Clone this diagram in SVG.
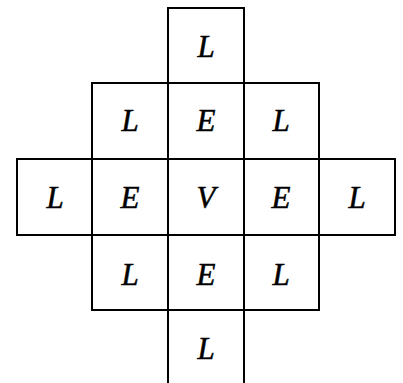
<svg xmlns="http://www.w3.org/2000/svg" width="403" height="383" viewBox="0 0 403 383">
<style>
.c{fill:none;stroke:#000;stroke-width:2}
.t{font-family:"Liberation Serif","Times New Roman",serif;font-style:italic;font-size:31px;text-anchor:middle;fill:#000;stroke:#000;stroke-width:0.5}
</style>
<rect width="403" height="383" fill="#fff"/>
<g id="r0c2"><rect class="c" x="168" y="8" width="76" height="75"/><text class="t" x="206" y="57">L</text></g>
<g id="r1c1"><rect class="c" x="92" y="83" width="76" height="76"/><text class="t" x="130" y="131">L</text></g>
<g id="r1c2"><rect class="c" x="168" y="83" width="76" height="76"/><text class="t" x="206" y="131">E</text></g>
<g id="r1c3"><rect class="c" x="244" y="83" width="75" height="76"/><text class="t" x="281" y="131">L</text></g>
<g id="r2c0"><rect class="c" x="17" y="159" width="75" height="76"/><text class="t" x="55" y="208">L</text></g>
<g id="r2c1"><rect class="c" x="92" y="159" width="76" height="76"/><text class="t" x="130" y="208">E</text></g>
<g id="r2c2"><rect class="c" x="168" y="159" width="76" height="76"/><text class="t" x="206" y="208">V</text></g>
<g id="r2c3"><rect class="c" x="244" y="159" width="75" height="76"/><text class="t" x="281" y="208">E</text></g>
<g id="r2c4"><rect class="c" x="319" y="159" width="76" height="76"/><text class="t" x="357" y="208">L</text></g>
<g id="r3c1"><rect class="c" x="92" y="235" width="76" height="75"/><text class="t" x="130" y="285">L</text></g>
<g id="r3c2"><rect class="c" x="168" y="235" width="76" height="75"/><text class="t" x="206" y="285">E</text></g>
<g id="r3c3"><rect class="c" x="244" y="235" width="75" height="75"/><text class="t" x="281" y="285">L</text></g>
<g id="r4c2"><path class="c" d="M168,383 V310 H244 V383"/><text class="t" x="206" y="359">L</text></g>
<g id="connectors"></g>
</svg>
